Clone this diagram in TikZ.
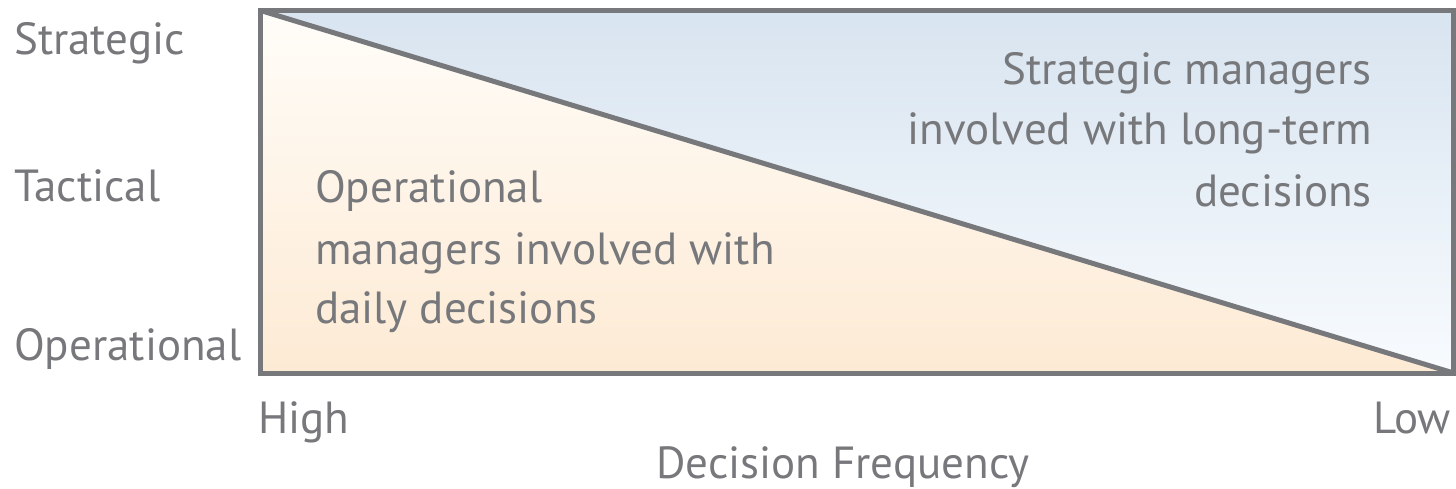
\documentclass[tikz,border=0pt]{standalone}
\usepackage{fontspec}
\setmainfont{PT Sans}
\definecolor{framegray}{HTML}{77787B}
\definecolor{skytop}{HTML}{D8E4F0}
\definecolor{skybottom}{HTML}{F8FBFE}
\definecolor{peachtop}{HTML}{FFFDF9}
\definecolor{peachbottom}{HTML}{FDEAD4}
\begin{document}
\begin{tikzpicture}[x=1pt,y=-1pt,
  lbl/.style={inner sep=0pt, text=framegray, font=\fontsize{45}{54}\selectfont},
  frame/.style={draw=framegray, line width=5pt}]
\useasboundingbox (0,0) rectangle (1456,489);
% corners of the plot area
\coordinate (tl) at (260.5,10.5);
\coordinate (tr) at (1453.5,10.5);
\coordinate (br) at (1453.5,373);
\coordinate (bl) at (260.5,373);
% two shaded halves split by the diagonal
\shade[top color=skytop, bottom color=skybottom] (tl) -- (tr) -- (br) -- cycle;
\shade[top color=peachtop, bottom color=peachbottom] (tl) -- (bl) -- (br) -- cycle;
\draw[frame] (tl) -- (br);
\draw[frame] (tl) rectangle (br);
% level labels on the left
\node[lbl, anchor=base west] (strat) at (14,55) {Strategic};
\node[lbl, anchor=base west] (tact) at (14,202) {Tactical};
\node[lbl, anchor=base west] (oper) at (14,360) {Operational};
% frequency axis
\node[lbl, anchor=base west] (high) at (258,433) {High};
\node[lbl, anchor=base east] (low) at (1451,433) {Low};
\node[lbl, anchor=base] (freq) at (843,478) {Decision Frequency};
% operational managers
\node[lbl, anchor=base west] (op1) at (315,203) {Operational};
\node[lbl, anchor=base west] (op2) at (315,264) {managers involved with};
\node[lbl, anchor=base west] (op3) at (315,323) {daily decisions};
% strategic managers
\node[lbl, anchor=base east] (st1) at (1372,85) {Strategic managers};
\node[lbl, anchor=base east] (st2) at (1372,145) {involved with long-term};
\node[lbl, anchor=base east] (st3) at (1372,207) {decisions};
\end{tikzpicture}
\end{document}
